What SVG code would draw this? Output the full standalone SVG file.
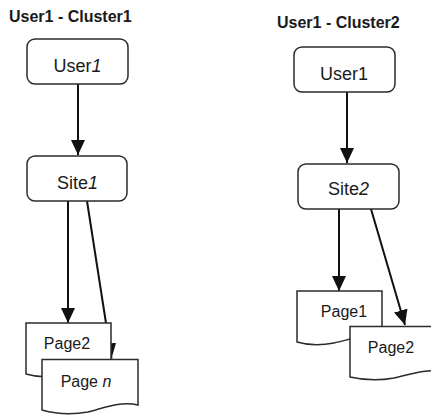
<svg xmlns="http://www.w3.org/2000/svg" width="431" height="415" viewBox="0 0 431 415">
  <style>
    .title { font-family: "Liberation Sans", Arial, sans-serif; font-weight: bold; font-size: 16px; fill: #1a1a1a; }
    .label { font-family: "Liberation Sans", Arial, sans-serif; font-size: 18px; fill: #1a1a1a; text-anchor: middle; }
    .plabel { font-family: "Liberation Sans", Arial, sans-serif; font-size: 16px; fill: #1a1a1a; text-anchor: middle; }
    .box { fill: #ffffff; stroke: #2b2b2b; stroke-width: 1.5; }
    .doc { fill: #ffffff; stroke: #2b2b2b; stroke-width: 1.5; }
    .edge { fill: none; stroke: #111111; stroke-width: 2; }
    .it { font-style: italic; }
  </style>
  <defs>
    <marker id="arrow" markerUnits="userSpaceOnUse" markerWidth="16" markerHeight="16" viewBox="0 0 16 16" refX="15" refY="8" orient="auto">
      <path d="M0,1 L15,8 L0,15 Z" fill="#111111"/>
    </marker>
  </defs>
  <rect width="431" height="415" fill="#ffffff"/>

  <!-- cluster titles -->
  <text class="title" x="9" y="22">User1 - Cluster1</text>
  <text class="title" x="277" y="28">User1 - Cluster2</text>

  <!-- connectors -->
  <g id="connectors">
    <line class="edge" x1="78" y1="84" x2="78" y2="155" marker-end="url(#arrow)"/>
    <line class="edge" x1="68" y1="201" x2="68" y2="323" marker-end="url(#arrow)"/>
    <line class="edge" x1="87" y1="201" x2="111.5" y2="358.5" marker-end="url(#arrow)"/>
    <line class="edge" x1="347" y1="92" x2="347" y2="163" marker-end="url(#arrow)"/>
    <line class="edge" x1="339" y1="209" x2="339" y2="291" marker-end="url(#arrow)"/>
    <line class="edge" x1="371" y1="209" x2="405" y2="325" marker-end="url(#arrow)"/>
  </g>

  <!-- cluster 1 -->
  <g id="user1-c1">
    <rect class="box" x="27" y="39" width="101" height="45" rx="8"/>
    <text class="label" x="77.5" y="72">User<tspan class="it">1</tspan></text>
  </g>
  <g id="site1">
    <rect class="box" x="27" y="156" width="100" height="45" rx="8"/>
    <text class="label" x="77.5" y="189">Site<tspan class="it">1</tspan></text>
  </g>
  <g id="page2-c1">
    <path class="doc" d="M26,323 H111 V369 C95,365 80,371 62,375 C48,378 36,377 26,374 Z"/>
    <text class="plabel" x="67" y="349">Page2</text>
  </g>
  <g id="pagen-c1">
    <path class="doc" d="M42,359.5 H138 V405 C120,401 104,408 88,412 C72,415 56,414 42,410 Z"/>
    <text class="plabel" x="86" y="387">Page <tspan class="it">n</tspan></text>
  </g>

  <!-- cluster 2 -->
  <g id="user1-c2">
    <rect class="box" x="294" y="47" width="101" height="45" rx="8"/>
    <text class="label" x="344" y="80">User1</text>
  </g>
  <g id="site2">
    <rect class="box" x="298" y="164" width="101" height="45" rx="8"/>
    <text class="label" x="348.5" y="195">Site<tspan class="it">2</tspan></text>
  </g>
  <g id="page1-c2">
    <path class="doc" d="M297,291 H382 V337 C366,333 352,339 334,343 C319,346 307,345 297,342 Z"/>
    <text class="plabel" x="344" y="317">Page1</text>
  </g>
  <g id="page2-c2">
    <path class="doc" d="M350,326.5 H446 V372 C428,368 412,374 394,378 C378,381 363,380 350,377 Z"/>
    <text class="plabel" x="391" y="353">Page2</text>
  </g>
</svg>
